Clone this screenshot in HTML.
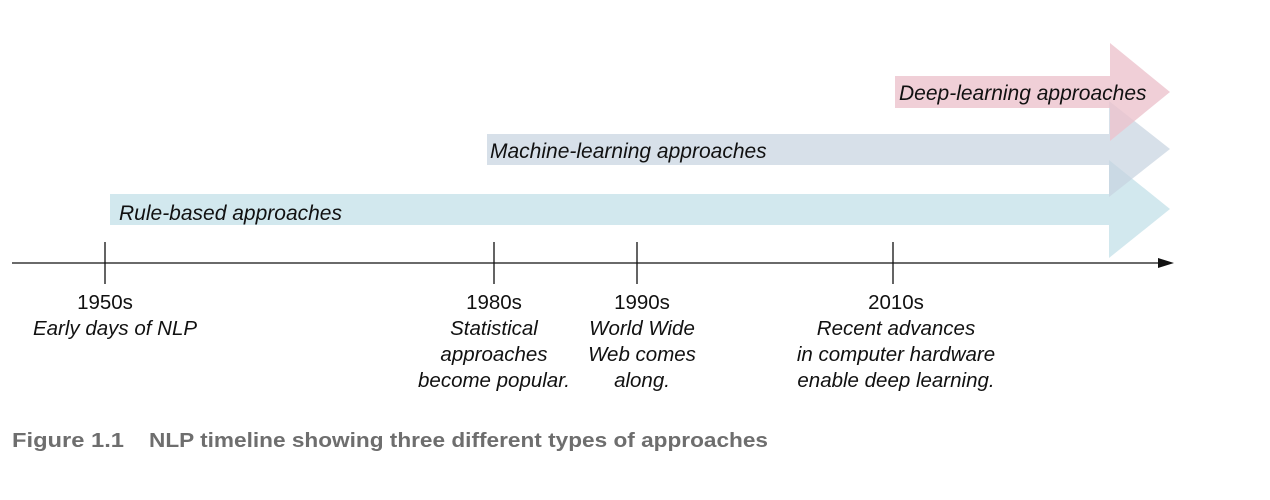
<!DOCTYPE html>
<html><head><meta charset="utf-8"><style>
html,body{margin:0;padding:0;background:#fff}
svg{display:block}
text{font-family:"Liberation Sans",Arial,sans-serif;fill:#111}
.i{font-style:italic}
</style></head><body>
<svg width="1270" height="500" viewBox="0 0 1270 500">
<polygon points="110,194 1109,194 1109,160 1170,209 1109,258 1109,225 110,225" fill="#c3e0e8" fill-opacity="0.75"/>
<polygon points="487,134 1109,134 1109,101 1170,149 1109,197 1109,165 487,165" fill="#c6d3e0" fill-opacity="0.7"/>
<polygon points="895,76 1110,76 1110,43 1170,92 1110,141 1110,108 895,108" fill="#ecc3cd" fill-opacity="0.8"/>
<text x="899" y="100" class="i" font-size="21">Deep-learning approaches</text>
<text x="490" y="158" class="i" font-size="21">Machine-learning approaches</text>
<text x="119" y="220" class="i" font-size="21">Rule-based approaches</text>
<line x1="12" y1="263" x2="1160" y2="263" stroke="#111" stroke-width="1.3"/>
<polygon points="1158,258 1174,263 1158,268" fill="#111"/>
<g stroke="#111" stroke-width="1.3">
<line x1="105" y1="242" x2="105" y2="284"/>
<line x1="494" y1="242" x2="494" y2="284"/>
<line x1="637" y1="242" x2="637" y2="284"/>
<line x1="893" y1="242" x2="893" y2="284"/>
</g>
<g font-size="20.5" text-anchor="middle">
<text x="105" y="309">1950s</text>
<text x="115" y="335" class="i">Early days of NLP</text>
<text x="494" y="309">1980s</text>
<text x="494" y="335" class="i">Statistical</text>
<text x="494" y="361" class="i">approaches</text>
<text x="494" y="387" class="i">become popular.</text>
<text x="642" y="309">1990s</text>
<text x="642" y="335" class="i">World Wide</text>
<text x="642" y="361" class="i">Web comes</text>
<text x="642" y="387" class="i">along.</text>
<text x="896" y="309">2010s</text>
<text x="896" y="335" class="i">Recent advances</text>
<text x="896" y="361" class="i">in computer hardware</text>
<text x="896" y="387" class="i">enable deep learning.</text>
</g>
<text x="12" y="447" font-size="20" font-weight="bold" style="fill:#6e6e6e" textLength="112" lengthAdjust="spacingAndGlyphs">Figure 1.1</text>
<text x="149" y="447" font-size="20" font-weight="bold" style="fill:#6e6e6e" textLength="619" lengthAdjust="spacingAndGlyphs">NLP timeline showing three different types of approaches</text>
</svg>
</body></html>
